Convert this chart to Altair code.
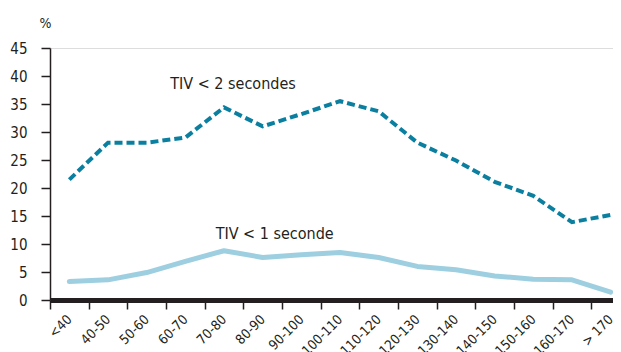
import altair as alt
import pandas as pd

categories = ["<40", "40-50", "50-60", "60-70", "70-80", "80-90", "90-100",
              "100-110", "110-120", "120-130", "130-140", "140-150",
              "150-160", "160-170", "> 170"]
tiv_2s = [21.5, 28.1, 28.1, 29.0, 34.4, 31.0, 33.2, 35.5, 33.7, 28.1,
          24.9, 21.1, 18.6, 13.9, 15.2]
tiv_1s = [3.3, 3.6, 4.9, 6.9, 8.8, 7.6, 8.1, 8.5, 7.6, 6.0,
          5.4, 4.3, 3.7, 3.6, 1.4]
series_names = ["TIV < 2 secondes", "TIV < 1 seconde"]
series_colors = ["#0a7fa0", "#9dcfe1"]
y_ticks = list(range(0, 50, 5))

# annotation anchors (category, value) for the series labels
label_cats = ["70-80", "80-90"]
label_vals = [38.5, 11.7]

rows = []
for c, v in zip(categories, tiv_2s):
    rows.append({"cat": c, "val": v, "serie": series_names[0]})
for c, v in zip(categories, tiv_1s):
    rows.append({"cat": c, "val": v, "serie": series_names[1]})
df = pd.DataFrame(rows)

labels_df = pd.DataFrame({"cat": label_cats, "val": label_vals, "text": series_names})

FONT = "DejaVu Sans Condensed, DejaVu Sans, sans-serif"
INK = "#231f20"

x_scale = alt.Scale(type="band", domain=categories, range=[0, 580],
                    paddingInner=0, paddingOuter=0)
y_scale = alt.Scale(domain=[0, 45], nice=False, zero=True)

x_enc = alt.X("cat:N", sort=categories, scale=x_scale, bandPosition=0.5,
              axis=alt.Axis(title=None, labelAngle=-45, labelAlign="right",
                            labelBaseline="middle", tickBand="extent",
                            domainWidth=5, domainColor=INK, tickColor=INK,
                            tickWidth=1.5, tickSize=9, labelPadding=8,
                            labelFontSize=13.5, labelFont=FONT, labelColor=INK,
                            labelOverlap=False, grid=False))
y_enc = alt.Y("val:Q", scale=y_scale,
              axis=alt.Axis(values=y_ticks, title="%", titleAngle=0, titleX=-5,
                            titleY=-18, titleAlign="center", titleBaseline="bottom",
                            titleFont=FONT, titleFontSize=14, titleFontWeight="normal",
                            titleColor=INK, labelFont=FONT, labelFontSize=15,
                            labelColor=INK, tickSize=9, tickColor=INK, tickWidth=1.5,
                            labelPadding=14, domainColor=INK, domainWidth=1.5,
                            grid=False))

base = alt.Chart(df)

line2 = base.transform_filter(alt.datum.serie == series_names[0]).mark_line(
    color=series_colors[0], strokeWidth=4, strokeDash=[8, 4]
).encode(x=x_enc, y=y_enc)

line1 = base.transform_filter(alt.datum.serie == series_names[1]).mark_line(
    color=series_colors[1], strokeWidth=5, strokeCap="round", strokeJoin="round"
).encode(x=x_enc, y=y_enc)

text2 = alt.Chart(labels_df).transform_filter(alt.datum.text == series_names[0]).mark_text(
    font=FONT, fontSize=16, color=INK, dx=9, baseline="middle", align="center"
).encode(x=x_enc, y=y_enc, text="text:N")

text1 = alt.Chart(labels_df).transform_filter(alt.datum.text == series_names[1]).mark_text(
    font=FONT, fontSize=16, color=INK, dx=12, baseline="middle", align="center"
).encode(x=x_enc, y=y_enc, text="text:N")

chart = alt.layer(line1, line2, text2, text1).properties(
    width=563, height=252,
    autosize=alt.AutoSizeParams(type="none"),
    padding={"left": 42, "top": 40, "right": 0, "bottom": 52},
).configure_view(stroke=None).configure(background="white")

chart.save("out.html", embed_options={"renderer": "svg", "actions": False})
